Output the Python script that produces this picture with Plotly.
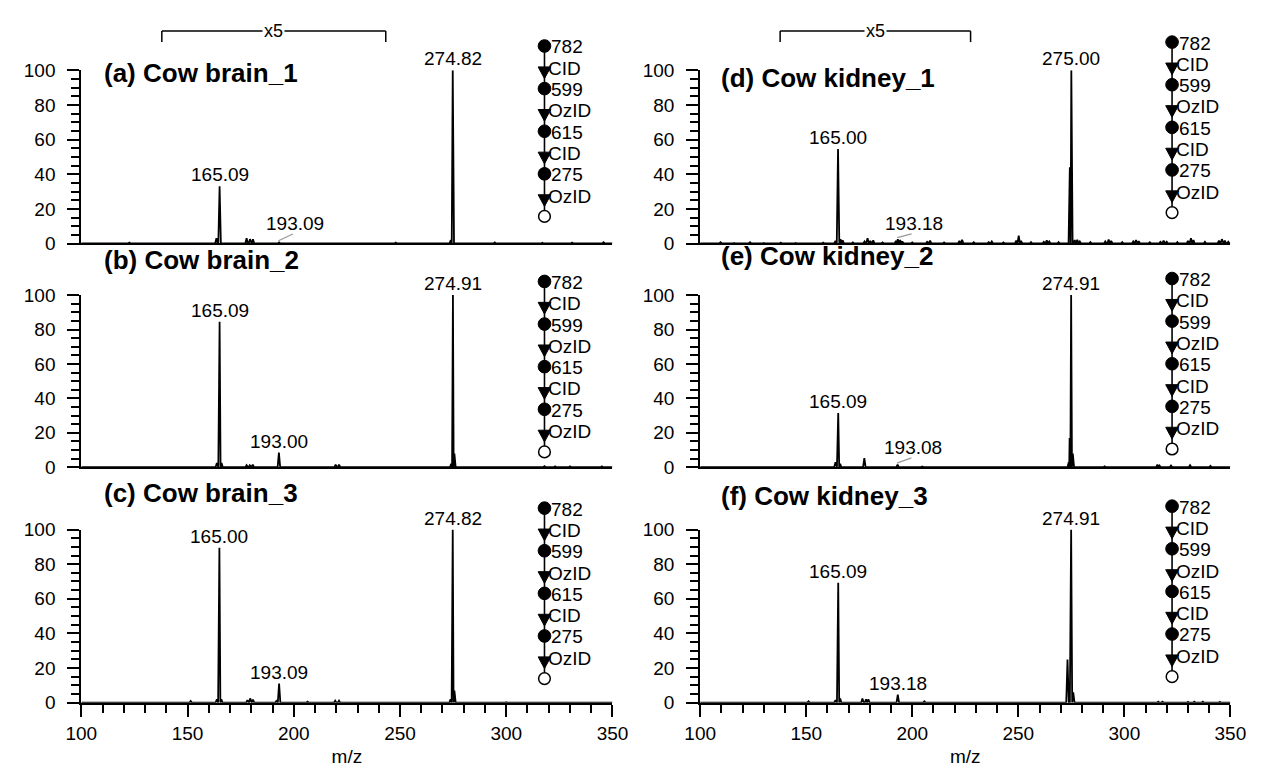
import plotly.graph_objects as go

# ---------------- data ----------------
panel_names = ["(a) Cow brain_1", "(b) Cow brain_2", "(c) Cow brain_3",
               "(d) Cow kidney_1", "(e) Cow kidney_2", "(f) Cow kidney_3"]

a_mz  = [122.6, 163.6, 165.09, 177.8, 179.4, 180.8, 193.09, 217.0, 248.0, 273.9, 274.82, 294.6, 317.0, 331.0, 345.8]
a_int = [0.5,   3.0,   33.0,   3.0,   2.5,   2.5,   0.6,    0.4,   0.5,   2.0,   100.0,  0.6,   0.4,   0.5,   0.7]

b_mz  = [163.8, 165.09, 166.0, 177.8, 179.3, 180.7, 193.00, 219.7, 221.3, 274.1, 274.91, 275.6, 318.0, 323.0, 330.0, 345.0]
b_int = [2.5,   84.5,   2.5,   1.2,   1.2,   1.5,   8.5,    1.5,   1.5,   2.0,   100.0,  8.0,   0.6,   0.5,   0.5,   0.5]

c_mz  = [140.5, 151.5, 163.8, 165.00, 165.9, 178.2, 179.5, 180.8, 191.8, 193.09, 206.5, 219.5, 221.3, 273.8, 274.82, 275.6, 300.0, 346.0]
c_int = [0.4,   1.0,   2.0,   89.5,   2.0,   1.5,   2.5,   1.8,   1.0,   11.0,   0.6,   1.2,   1.2,   2.0,   100.0,  7.0,   0.3,   0.4]

d_mz  = [104.0, 109.6, 116.0, 123.5, 130.0, 138.0, 145.0, 152.0, 158.0, 163.8, 165.00, 166.2, 167.2, 172.0,
         177.5, 178.9, 180.2, 181.6, 186.0, 192.3, 193.18, 194.3, 195.3, 200.0, 207.0, 208.4, 215.0, 222.2,
         223.5, 229.0, 236.0, 237.5, 243.0, 249.0, 250.2, 251.3, 256.0, 262.0, 263.4, 264.6, 269.0, 274.3,
         275.00, 276.6, 277.8, 279.0, 284.0, 291.0, 292.6, 293.8, 299.0, 304.2, 305.5, 306.8, 312.0, 317.0,
         318.5, 320.0, 325.0, 330.0, 331.4, 332.6, 338.0, 344.6, 346.0, 347.4, 349.0]
d_int = [0.4, 0.7, 0.3, 0.7, 0.3, 0.5, 0.3, 0.4, 0.5, 1.5, 54.5, 2.5, 1.8, 0.6,
         1.2, 3.0, 1.5, 1.8, 0.6, 1.5, 2.5, 2.0, 1.2, 0.6, 1.0, 1.6, 0.6, 1.5,
         2.2, 0.7, 0.8, 1.2, 0.6, 1.6, 4.5, 1.5, 0.8, 1.0, 1.8, 1.2, 0.8, 44.0,
         100.0, 2.0, 2.2, 1.2, 0.8, 1.2, 2.3, 1.5, 0.8, 1.2, 2.0, 1.4, 0.7, 1.0,
         1.6, 1.0, 0.8, 1.5, 3.0, 2.0, 1.0, 1.6, 2.5, 1.6, 1.0]

e_mz  = [163.8, 165.09, 166.0, 177.4, 193.08, 204.7, 273.8, 274.2, 274.91, 275.7, 290.7, 315.6, 316.6, 322.0, 331.0, 340.6]
e_int = [3.0,   31.5,   2.0,   5.3,   1.5,    0.4,   3.0,   17.0,  100.0,  8.0,   0.5,   1.5,   1.0,   1.0,   1.2,   0.8]

f_mz  = [151.1, 163.8, 165.09, 166.0, 176.5, 178.2, 179.3, 193.18, 205.7, 273.2, 274.91, 275.9, 316.0, 318.0, 330.0, 333.0, 337.0, 345.0]
f_int = [0.8,   1.5,   69.3,   2.5,   2.5,   2.0,   2.0,   4.7,    0.8,   25.0,  100.0,  6.0,   0.6,   0.6,   0.5,   0.6,   0.6,   0.5]

# labelled peaks (m/z)
a_labels = [165.09, 274.82]
b_labels = [165.09, 193.00, 274.91]
c_labels = [165.00, 193.09, 274.82]
d_labels = [165.00, 275.00]
e_labels = [165.09, 274.91]
f_labels = [165.09, 193.18, 274.91]
# peaks labelled through a grey leader line
a_leader = [193.09]
d_leader = [193.18]
e_leader = [193.08]

scheme_nodes = ["782", "599", "615", "275"]
scheme_steps = ["CID", "OzID", "CID", "OzID"]
zoom_text = "x5"
x_ticks = [100, 150, 200, 250, 300, 350]
y_ticks = [0, 20, 40, 60, 80, 100]

# ---------------- layout / style ----------------
W, H = 1261, 775
FONT = "Arial, 'Liberation Sans', sans-serif"
cols_px = [(67, 612), (702, 1246)]
rows_px = [(62, 240), (293, 470), (534, 712)]
title_px = [65, 257, 496, 70, 253, 500]          # vertical centre of panel titles
title_left_px = [89, 722]
scheme_top_px = [37, 279, 512, 33, 276, 510]     # first filled circle
scheme_mz = [318, 318, 318, 322.5, 322.5, 322.5]
NODE_GAP = 43.8
TRI_OFF = 27
STEP_OFF = 21.9
SCHEME_FONT = 19
bracket_mz = [(137.9, 243.3), (137.7, 227.5)]

panels = [
    dict(mz=a_mz, it=a_int, labels=a_labels, leader=a_leader, col=0, row=0),
    dict(mz=b_mz, it=b_int, labels=b_labels, leader=[], col=0, row=1),
    dict(mz=c_mz, it=c_int, labels=c_labels, leader=[], col=0, row=2),
    dict(mz=d_mz, it=d_int, labels=d_labels, leader=d_leader, col=1, row=0),
    dict(mz=e_mz, it=e_int, labels=e_labels, leader=e_leader, col=1, row=1),
    dict(mz=f_mz, it=f_int, labels=f_labels, leader=[], col=1, row=2),
]


def PX(px):
    return px / W


def PY(py):
    return 1 - py / H


def mz2px(col, m):
    x0, x1 = cols_px[col]
    return x0 + (m - 100) / 250 * (x1 - x0)


def profile(mz, it, hw=0.6):
    pairs = sorted(zip(mz, it))
    xs, ys = [100], [0]
    for k, (m, i) in enumerate(pairs):
        lw = hw if k == 0 else min(hw, (m - pairs[k - 1][0]) / 2)
        rw = hw if k == len(pairs) - 1 else min(hw, (pairs[k + 1][0] - m) / 2)
        xs += [m - lw, m, m + rw]
        ys += [0, i, 0]
    xs.append(350)
    ys.append(0)
    return xs, ys


def intensity_at(p, m):
    best = min(range(len(p["mz"])), key=lambda j: abs(p["mz"][j] - m))
    return p["it"][best]


fig = go.Figure()
annotations = []
shapes = []
layout_axes = {}


def pline(x0, y0, x1, y1, color="black", width=1.5):
    shapes.append(dict(type="line", xref="paper", yref="paper",
                       x0=PX(x0), y0=PY(y0), x1=PX(x1), y1=PY(y1),
                       line=dict(color=color, width=width)))


for k, p in enumerate(panels):
    idx = k + 1
    xn = "x" if idx == 1 else f"x{idx}"
    yn = "y" if idx == 1 else f"y{idx}"
    top, bot = rows_px[p["row"]]

    xs, ys = profile(p["mz"], p["it"])
    fig.add_trace(go.Scatter(x=xs, y=ys, mode="lines", xaxis=xn, yaxis=yn,
                             line=dict(color="black", width=1.8), hoverinfo="skip",
                             showlegend=False))

    bottom_row = p["row"] == 2
    xa = dict(domain=[PX(cols_px[p["col"]][0]), PX(cols_px[p["col"]][1])], range=[100, 350],
              anchor=yn, showline=True, linecolor="black", linewidth=2,
              showgrid=False, zeroline=False, fixedrange=True)
    if bottom_row:
        xa.update(ticks="outside", ticklen=12, tickwidth=2, tickcolor="black",
                  tickvals=x_ticks, showticklabels=True,
                  tickfont=dict(family=FONT, size=19, color="black"),
                  minor=dict(ticks="outside", dtick=10, tick0=100, ticklen=8,
                             tickwidth=1.5, tickcolor="black", showgrid=False),
                  title=dict(text="m/z", font=dict(family=FONT, size=19, color="black"),
                             standoff=7))
    else:
        xa.update(ticks="", showticklabels=False)
    ya = dict(domain=[PY(bot), PY(top)], range=[0, 100], anchor=xn,
              showline=True, linecolor="black", linewidth=2,
              ticks="outside", ticklen=12, tickwidth=2, tickcolor="black",
              tickvals=y_ticks, tickfont=dict(family=FONT, size=19, color="black"),
              minor=dict(ticks="outside", dtick=5, tick0=0, ticklen=8,
                         tickwidth=1.5, tickcolor="black", showgrid=False),
              showgrid=False, zeroline=False, fixedrange=True, ticklabelstandoff=8)
    layout_axes["xaxis" if idx == 1 else f"xaxis{idx}"] = xa
    layout_axes["yaxis" if idx == 1 else f"yaxis{idx}"] = ya

    # panel title
    annotations.append(dict(x=PX(title_left_px[p["col"]]), y=PY(title_px[k]),
                            xref="paper", yref="paper",
                            text=f"<b>{panel_names[k]}</b>", showarrow=False,
                            xanchor="left", yanchor="middle", borderpad=0,
                            font=dict(family=FONT, size=26, color="black")))

    # peak labels
    for m in p["labels"]:
        annotations.append(dict(x=m, y=intensity_at(p, m), xref=xn, yref=yn,
                                text=f"{m:.2f}", showarrow=False, xanchor="center",
                                yanchor="bottom", borderpad=0,
                                font=dict(family=FONT, size=19, color="black")))
    for m in p["leader"]:
        i = intensity_at(p, m)
        annotations.append(dict(x=m + 6.5, y=5.5, ax=m - 1, ay=i + 0.6, xref=xn, yref=yn,
                                axref=xn, ayref=yn, text="", showarrow=True, arrowhead=0,
                                arrowwidth=1.3, arrowcolor="#9a9a9a", standoff=0))
        annotations.append(dict(x=m + 7.5, y=5.0, xref=xn, yref=yn, text=f"{m:.2f}",
                                showarrow=False, xanchor="center", yanchor="bottom",
                                borderpad=0, font=dict(family=FONT, size=19, color="black")))

    # fragmentation scheme (drawn in page coordinates so it may leave the plot area)
    cx = mz2px(p["col"], scheme_mz[k])
    t0 = scheme_top_px[k]
    node_py = [t0 + j * NODE_GAP for j in range(4)]
    tri_py = [t0 + j * NODE_GAP + TRI_OFF for j in range(4)]
    open_py = t0 + 4 * NODE_GAP
    pline(cx, node_py[0], cx, open_py - 6, width=1.6)
    r = 6.5
    for j in range(4):
        shapes.append(dict(type="circle", xref="paper", yref="paper",
                           x0=PX(cx - r), x1=PX(cx + r), y0=PY(node_py[j] + r), y1=PY(node_py[j] - r),
                           fillcolor="black", line=dict(color="black", width=1)))
        ty = tri_py[j]
        path = (f"M {PX(cx - 6.5)} {PY(ty - 5.5)} L {PX(cx + 6.5)} {PY(ty - 5.5)} "
                f"L {PX(cx)} {PY(ty + 6.5)} Z")
        shapes.append(dict(type="path", xref="paper", yref="paper", path=path,
                           fillcolor="black", line=dict(color="black", width=1)))
        annotations.append(dict(x=PX(cx + 6), y=PY(node_py[j] + 1), xref="paper", yref="paper",
                                text=scheme_nodes[j], showarrow=False, xanchor="left",
                                yanchor="middle", borderpad=0,
                                font=dict(family=FONT, size=SCHEME_FONT, color="black")))
        annotations.append(dict(x=PX(cx + 3), y=PY(node_py[j] + 1 + STEP_OFF), xref="paper",
                                yref="paper", text=scheme_steps[j], showarrow=False,
                                xanchor="left", yanchor="middle", borderpad=0,
                                font=dict(family=FONT, size=SCHEME_FONT, color="black")))
    ro = 6
    shapes.append(dict(type="circle", xref="paper", yref="paper",
                       x0=PX(cx - ro), x1=PX(cx + ro), y0=PY(open_py + ro), y1=PY(open_py - ro),
                       fillcolor="white", line=dict(color="black", width=1.5)))

    # x5 zoom bracket in the top row
    if p["row"] == 0:
        b0, b1 = (mz2px(p["col"], v) for v in bracket_mz[p["col"]])
        yl, yt = 21.7, 33
        pline(b0, yl, b1, yl, width=1.5)
        pline(b0, yl, b0, yt, width=1.5)
        pline(b1, yl, b1, yt, width=1.5)
        annotations.append(dict(x=PX((b0 + b1) / 2), y=PY(yl), xref="paper", yref="paper",
                                text=zoom_text, showarrow=False, xanchor="center",
                                yanchor="middle", bgcolor="white", borderpad=1,
                                font=dict(family=FONT, size=18, color="black")))

fig.update_layout(width=W, height=H, margin=dict(l=0, r=0, t=0, b=0),
                  paper_bgcolor="white", plot_bgcolor="white", showlegend=False,
                  font=dict(family=FONT, color="black"), annotations=annotations,
                  shapes=shapes, **layout_axes)

fig.write_html("out.html")
